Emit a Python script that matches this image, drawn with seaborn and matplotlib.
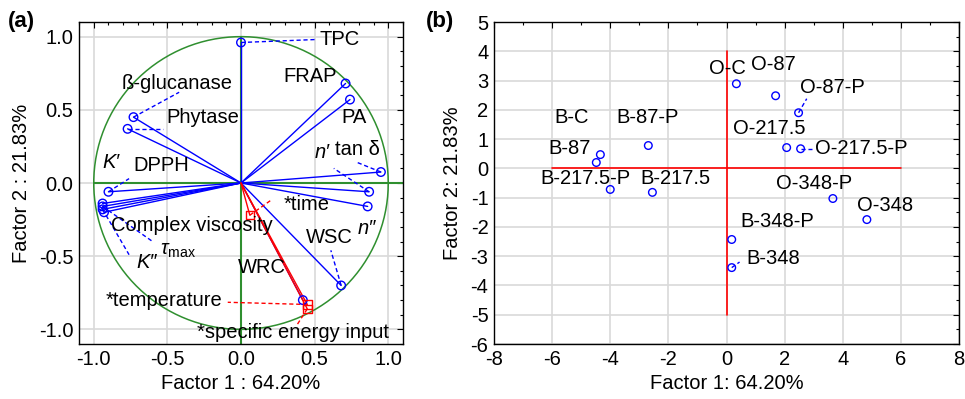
import numpy as np
import pandas as pd
import seaborn as sns
import matplotlib.pyplot as plt
from matplotlib.ticker import MultipleLocator

# ---------------- data ----------------
# (a) loadings of active variables
var_names = ['TPC', 'FRAP', 'PA', 'tan δ', 'n′', 'n″', 'WSC', 'WRC',
             'ß-glucanase', 'Phytase', 'DPPH', 'K′', 'Complex viscosity', 'K″', 'τmax']
var_f1 = [0.00, 0.71, 0.74, 0.95, 0.87, 0.86, 0.68, 0.42,
          -0.73, -0.77, -0.90, -0.94, -0.94, -0.94, -0.93]
var_f2 = [0.96, 0.68, 0.57, 0.075, -0.06, -0.16, -0.70, -0.80,
          0.45, 0.37, -0.06, -0.14, -0.16, -0.18, -0.20]

# (a) supplementary variables
sup_names = ['*time', '*temperature', '*specific energy input']
sup_f1 = [0.06, 0.45, 0.45]
sup_f2 = [-0.22, -0.83, -0.86]

# (b) sample scores
sample_names = ['O-C', 'O-87', 'O-87-P', 'O-217.5', 'O-217.5-P', 'B-C', 'B-87', 'B-87-P',
                'B-217.5-P', 'B-217.5', 'O-348-P', 'O-348', 'B-348-P', 'B-348']
sample_f1 = [0.34, 1.69, 2.48, 2.07, 2.55, -4.34, -4.48, -2.69,
             -4.00, -2.55, 3.66, 4.83, 0.18, 0.18]
sample_f2 = [2.89, 2.48, 1.90, 0.71, 0.67, 0.47, 0.20, 0.78,
             -0.72, -0.82, -1.03, -1.75, -2.43, -3.39]

# ---------------- label layout (text position, leader line) ----------------
var_labels = {
    'TPC': (0.53, 0.98, True), 'FRAP': (0.29, 0.73, False), 'PA': (0.68, 0.45, False),
    'tan δ': (0.64, 0.23, True), 'n′': (0.50, 0.21, True), 'n″': (0.79, -0.31, False),
    'WSC': (0.44, -0.37, True), 'WRC': (-0.02, -0.58, False),
    'ß-glucanase': (-0.81, 0.68, True), 'Phytase': (-0.51, 0.45, True),
    'DPPH': (-0.73, 0.12, True), 'K′': (-0.94, 0.14, False),
    'Complex viscosity': (-0.88, -0.29, True), 'K″': (-0.71, -0.54, True),
    'τmax': (-0.55, -0.46, False),
}
leader_end = {
    'TPC': (0.50, 0.98), 'tan δ': (0.79, 0.14), 'n′': (0.63, 0.10), 'WSC': (0.61, -0.46),
    'ß-glucanase': (-0.42, 0.62), 'Phytase': (-0.53, 0.37), 'DPPH': (-0.76, 0.03),
    'Complex viscosity': (-0.60, -0.40), 'K″': (-0.76, -0.49),
}
sup_labels = {'*time': (0.29, -0.15), '*temperature': (-0.92, -0.80),
              '*specific energy input': (-0.30, -1.02)}
sup_leader_end = {'*time': (0.20, -0.12), '*temperature': (-0.09, -0.815),
                  '*specific energy input': (0.38, -0.97)}

sample_labels = {
    'O-C': (-0.59, 3.40), 'O-87': (0.83, 3.54), 'O-87-P': (2.52, 2.75),
    'O-217.5': (0.21, 1.36), 'O-217.5-P': (3.03, 0.67), 'B-C': (-5.93, 1.73),
    'B-87-P': (-3.79, 1.73), 'B-87': (-6.14, 0.67), 'B-217.5-P': (-6.41, -0.35),
    'B-217.5': (-2.97, -0.35), 'O-348-P': (1.72, -0.52), 'O-348': (4.48, -1.27),
    'B-348-P': (0.48, -1.81), 'B-348': (0.69, -3.07),
}
sample_leader_end = {'O-87-P': (2.76, 2.38), 'O-217.5-P': (2.93, 0.67), 'B-348': (0.45, -3.2)}

# ---------------- style ----------------
sns.set_theme(style='whitegrid')
plt.rcParams['font.family'] = ['Liberation Sans', 'DejaVu Sans']
plt.rcParams['mathtext.fontset'] = 'custom'
plt.rcParams['mathtext.rm'] = 'Liberation Sans'
plt.rcParams['mathtext.it'] = 'Liberation Sans:italic'
plt.rcParams['axes.unicode_minus'] = False
plt.rcParams['text.color'] = 'black'
plt.rcParams['axes.labelcolor'] = 'black'
FS = 14.5

fig = plt.figure(figsize=(9.65, 3.99), dpi=100)
axA = fig.add_axes([79 / 965, 55 / 399, 324 / 965, 322 / 399])
axB = fig.add_axes([494 / 965, 55 / 399, 465 / 965, 322 / 399])

for ax in (axA, axB):
    ax.set_facecolor('white')
    ax.grid(True, color='#d9d9d9', lw=1.2)
    for s in ax.spines.values():
        s.set_color('black')
        s.set_linewidth(1.0)
    ax.tick_params(which='both', direction='in', top=True, right=True,
                   labelsize=FS, colors='black', pad=4)
    ax.tick_params(which='major', length=4, width=0.8)
    ax.tick_params(which='minor', length=2.5, width=0.8)

# ---------------- (a) ----------------
green = '#2f8f2f'
t = np.linspace(0, 2 * np.pi, 400)
axA.plot(np.cos(t), np.sin(t), color=green, lw=1.1, zorder=2)
axA.plot([-1.0, 1.1], [0, 0], color=green, lw=1.5, zorder=2)
axA.plot([0, 0], [-1.1, 1.0], color=green, lw=1.5, zorder=2)

for x, y in zip(var_f1, var_f2):
    axA.plot([0, x], [0, y], color='blue', lw=1.0, zorder=3)
for x, y in zip(sup_f1, sup_f2):
    axA.plot([0, x], [0, y], color='red', lw=1.0, zorder=3)

df_var = pd.DataFrame({'f1': var_f1, 'f2': var_f2, 'name': var_names})
df_sup = pd.DataFrame({'f1': sup_f1, 'f2': sup_f2, 'name': sup_names})
sns.scatterplot(data=df_var, x='f1', y='f2', ax=axA, marker='o', s=38,
                fc='none', ec='blue', linewidth=1.0, zorder=4)
sns.scatterplot(data=df_sup, x='f1', y='f2', ax=axA, marker='s', s=38,
                fc='none', ec='red', linewidth=1.0, zorder=4)

italic = {'n′', 'n″', 'K′', 'K″'}
for name, x, y in zip(var_names, var_f1, var_f2):
    tx, ty, lead = var_labels[name]
    if lead:
        ex, ey = leader_end[name]
        axA.plot([x, ex], [y, ey], color='blue', lw=1.0, ls=(0, (3, 2)), zorder=3)
    txt = r'$\tau_{\mathrm{max}}$' if name == 'τmax' else name
    axA.text(tx, ty, txt, fontsize=FS, ha='left', va='center',
             fontstyle='italic' if name in italic else 'normal', zorder=5)

for name, x, y in zip(sup_names, sup_f1, sup_f2):
    tx, ty = sup_labels[name]
    ex, ey = sup_leader_end[name]
    axA.plot([x, ex], [y, ey], color='red', lw=1.0, ls=(0, (3, 2)), zorder=3)
    axA.text(tx, ty, name, fontsize=FS, ha='left', va='center', zorder=5)

axA.set_xlim(-1.1, 1.1)
axA.set_ylim(-1.1, 1.1)
axA.xaxis.set_major_locator(MultipleLocator(0.5))
axA.yaxis.set_major_locator(MultipleLocator(0.5))
axA.xaxis.set_minor_locator(MultipleLocator(0.1))
axA.yaxis.set_minor_locator(MultipleLocator(0.1))
axA.xaxis.set_major_formatter(lambda v, p: f'{v:.1f}')
axA.yaxis.set_major_formatter(lambda v, p: f'{v:.1f}')
axA.set_xlabel('Factor 1 : 64.20%', fontsize=FS, labelpad=4)
axA.set_ylabel('Factor 2 : 21.83%', fontsize=FS, labelpad=6)

# ---------------- (b) ----------------
axB.plot([-6, 6], [0, 0], color='red', lw=1.2, zorder=2)
axB.plot([0, 0], [-5, 4], color='red', lw=1.2, zorder=2)

df_s = pd.DataFrame({'f1': sample_f1, 'f2': sample_f2, 'name': sample_names})
sns.scatterplot(data=df_s, x='f1', y='f2', ax=axB, marker='o', s=30,
                fc='none', ec='blue', linewidth=1.0, zorder=4)
for name, x, y in zip(sample_names, sample_f1, sample_f2):
    tx, ty = sample_labels[name]
    if name in sample_leader_end:
        ex, ey = sample_leader_end[name]
        axB.plot([x, ex], [y, ey], color='blue', lw=1.0, ls=(0, (3, 2)), zorder=3)
    axB.text(tx, ty, name, fontsize=FS, ha='left', va='center', zorder=5)

axB.set_xlim(-8, 8)
axB.set_ylim(-6, 5)
axB.xaxis.set_major_locator(MultipleLocator(2))
axB.yaxis.set_major_locator(MultipleLocator(1))
axB.xaxis.set_minor_locator(MultipleLocator(1))
axB.yaxis.set_minor_locator(MultipleLocator(0.5))
axB.set_xlabel('Factor 1: 64.20%', fontsize=FS, labelpad=4)
axB.set_ylabel('Factor 2: 21.83%', fontsize=FS, labelpad=6)

fig.text(8 / 965, 1 - 22 / 399, '(a)', fontsize=16, fontweight='bold', va='center')
fig.text(426 / 965, 1 - 22 / 399, '(b)', fontsize=16, fontweight='bold', va='center')

fig.savefig('out.png', dpi=100)
